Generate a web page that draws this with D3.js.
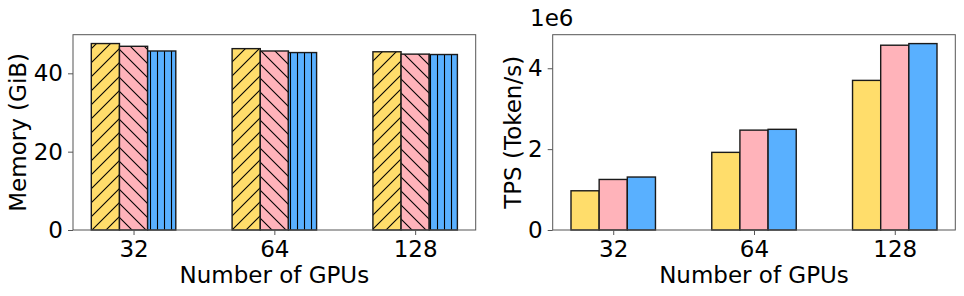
<!DOCTYPE html>
<html>
<head>
<meta charset="utf-8">
<script src="https://cdn.jsdelivr.net/npm/d3@7"></script>
<style>
  body { margin: 0; background: #fff; }
  svg text { font-family: "DejaVu Sans", sans-serif; fill: #000; }
</style>
</head>
<body>
<div id="chart"></div>
<script>
// ── Data ────────────────────────────────────────────────────────────────
const gpus = ['32', '64', '128']
const series = ['A', 'B', 'C']
const memoryA = [47.6, 46.3, 45.5]
const memoryB = [46.9, 45.7, 44.9]
const memoryC = [45.7, 45.3, 44.8]
const tpsA = [0.97e6, 1.92e6, 3.70e6]
const tpsB = [1.25e6, 2.47e6, 4.57e6]
const tpsC = [1.31e6, 2.49e6, 4.61e6]
const memTicks = [0, 20, 40]
const tpsTicks = [0, 2e6, 4e6]

const colors = ['#ffdd6b', '#ffb3ba', '#59b0ff']
const hatches = ['diagR', 'diagL', 'vert']
const FS = '23px'

const W = 964, H = 296
const svg = d3.select('#chart').append('svg').attr('width', W).attr('height', H)
const defs = svg.append('defs')

// hatch patterns, aligned to the page like matplotlib's
function addPattern(id, color, kind) {
  const size = kind === 'vert' ? 7 : 14
  const p = defs.append('pattern').attr('id', id)
    .attr('patternUnits', 'userSpaceOnUse').attr('width', size).attr('height', size)
  p.append('rect').attr('width', size).attr('height', size).attr('fill', color)
  const g = p.append('g').attr('stroke', '#000').attr('stroke-width', 1.1)
  if (kind === 'vert') {
    g.append('line').attr('x1', 3.5).attr('x2', 3.5).attr('y1', 0).attr('y2', size)
  } else if (kind === 'diagR') {
    g.append('line').attr('x1', -1).attr('y1', size + 1).attr('x2', size + 1).attr('y2', -1)
    g.append('line').attr('x1', -1).attr('y1', 1).attr('x2', 1).attr('y2', -1)
    g.append('line').attr('x1', size - 1).attr('y1', size + 1).attr('x2', size + 1).attr('y2', size - 1)
  } else {
    g.append('line').attr('x1', -1).attr('y1', -1).attr('x2', size + 1).attr('y2', size + 1)
    g.append('line').attr('x1', size - 1).attr('y1', -1).attr('x2', size + 1).attr('y2', 1)
    g.append('line').attr('x1', -1).attr('y1', size - 1).attr('x2', 1).attr('y2', size + 1)
  }
}
series.forEach((s, i) => addPattern('h' + i, colors[i], hatches[i]))

function panel(opts) {
  const { left, right, top, bottom, data, yMax, ticks, tickFmt, ylabel, hatched } = opts
  const x = d3.scaleLinear().domain([-0.43, 2.43]).range([left, right])
  const y = d3.scaleLinear().domain([0, yMax]).range([bottom, top])
  const bw = 0.2
  const g = svg.append('g')

  data.forEach((vals, si) => {
    g.selectAll(null).data(vals).join('rect')
      .attr('x', (d, i) => x(i + (si - 1) * bw - bw / 2))
      .attr('width', x(bw) - x(0))
      .attr('y', d => y(d))
      .attr('height', d => y(0) - y(d))
      .attr('fill', hatched ? `url(#h${si})` : colors[si])
      .attr('stroke', '#1a1a1a')
      .attr('stroke-width', 1.4)
  })

  // frame
  g.append('rect').attr('x', left).attr('y', top).attr('width', right - left).attr('height', bottom - top)
    .attr('fill', 'none').attr('stroke', '#555').attr('stroke-width', 1)

  const yAxis = g.append('g').attr('transform', `translate(${left},0)`)
    .call(d3.axisLeft(y).tickValues(ticks).tickFormat(tickFmt).tickSize(5).tickPadding(5))
  const xAxis = g.append('g').attr('transform', `translate(0,${bottom})`)
    .call(d3.axisBottom(x).tickValues([0, 1, 2]).tickFormat(i => gpus[i]).tickSize(5).tickPadding(4))
  ;[yAxis, xAxis].forEach(a => {
    a.select('.domain').remove()
    a.selectAll('line').attr('stroke', '#555')
    a.selectAll('text').style('font-size', FS).attr('font-family', null)
  })
  xAxis.selectAll('text').attr('dy', null).attr('y', 27)

  g.append('text').attr('x', (left + right) / 2).attr('y', 283)
    .attr('text-anchor', 'middle').style('font-size', FS).text('Number of GPUs')
  g.append('text').attr('transform', `translate(${opts.ylabelX},${(top + bottom) / 2}) rotate(-90)`)
    .attr('text-anchor', 'middle').attr('dominant-baseline', 'central')
    .style('font-size', FS).text(ylabel)
}

panel({
  left: 73, right: 475.7, top: 34.7, bottom: 230,
  data: [memoryA, memoryB, memoryC], yMax: 49.86, ticks: memTicks,
  tickFmt: d3.format('d'), ylabel: 'Memory (GiB)', ylabelX: 18, hatched: true
})
panel({
  left: 552.7, right: 955.3, top: 34.7, bottom: 230,
  data: [tpsA, tpsB, tpsC], yMax: 4.83e6, ticks: tpsTicks,
  tickFmt: d => d / 1e6, ylabel: 'TPS (Token/s)', ylabelX: 513, hatched: false
})
svg.append('text').attr('x', 530).attr('y', 26).style('font-size', FS).text('1e6')
</script>
</body>
</html>
